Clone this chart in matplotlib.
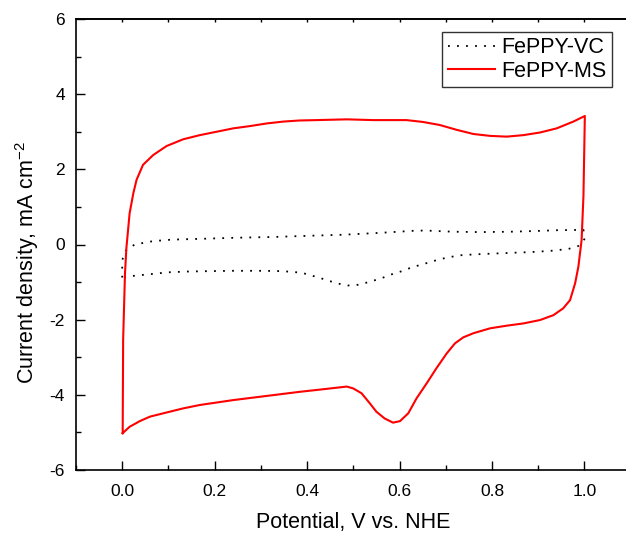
import numpy as np
import matplotlib.pyplot as plt

plt.rcParams['font.family'] = ['Liberation Sans', 'DejaVu Sans']
plt.rcParams['axes.unicode_minus'] = False
plt.rcParams['mathtext.fontset'] = 'custom'
plt.rcParams['mathtext.rm'] = 'Liberation Sans'
plt.rcParams['mathtext.it'] = 'Liberation Sans:italic'

# FePPY-MS cyclic voltammogram (red), V vs NHE / mA cm-2
ms_v = [0.001, 0.002, 0.004, 0.006, 0.009, 0.016, 0.024, 0.031, 0.045, 0.067,
        0.096, 0.132, 0.168, 0.204, 0.240, 0.276, 0.312, 0.348, 0.384, 0.421,
        0.486, 0.543, 0.615, 0.651, 0.687, 0.724, 0.760, 0.796, 0.832, 0.868,
        0.904, 0.940, 0.976, 1.001, 0.998, 0.994, 0.987, 0.980, 0.969, 0.954,
        0.933, 0.904, 0.868, 0.832, 0.796, 0.760, 0.738, 0.720, 0.702, 0.680,
        0.659, 0.637, 0.619, 0.601, 0.586, 0.568, 0.550, 0.536, 0.518, 0.500,
        0.486, 0.421, 0.384, 0.312, 0.240, 0.168, 0.132, 0.096, 0.060, 0.038,
        0.016, 0.001]
ms_j = [-5.02, -2.54, -1.65, -0.77, -0.10, 0.83, 1.36, 1.72, 2.12, 2.38,
        2.62, 2.80, 2.91, 3.00, 3.09, 3.15, 3.22, 3.27, 3.30, 3.31,
        3.33, 3.31, 3.31, 3.26, 3.18, 3.05, 2.94, 2.89, 2.87, 2.91,
        2.98, 3.09, 3.27, 3.42, 1.30, 0.12, -0.59, -1.03, -1.48, -1.70,
        -1.88, -2.01, -2.10, -2.16, -2.23, -2.36, -2.47, -2.63, -2.90, -3.29,
        -3.69, -4.09, -4.49, -4.70, -4.74, -4.63, -4.45, -4.23, -3.96, -3.83,
        -3.78, -3.87, -3.92, -4.03, -4.14, -4.27, -4.36, -4.47, -4.58, -4.70,
        -4.85, -5.02]

# FePPY-VC (black dotted)
vc_v = [0.000, 0.000, 0.008, 0.027, 0.067, 0.107, 0.168, 0.247, 0.327, 0.399,
        0.478, 0.558, 0.637, 0.659, 0.716, 0.774, 0.839, 0.897, 0.940, 0.998,
        1.000, 0.987, 0.965, 0.926, 0.886, 0.846, 0.806, 0.767, 0.727, 0.708,
        0.687, 0.666, 0.626, 0.605, 0.586, 0.567, 0.547, 0.527, 0.507, 0.488,
        0.467, 0.448, 0.428, 0.408, 0.388, 0.348, 0.305, 0.240, 0.182, 0.139,
        0.099, 0.060, 0.020, 0.000]
vc_j = [-0.88, -0.41, -0.16, 0.00, 0.09, 0.13, 0.15, 0.18, 0.20, 0.23,
        0.26, 0.31, 0.37, 0.37, 0.34, 0.33, 0.34, 0.36, 0.38, 0.39,
        0.14, -0.04, -0.12, -0.17, -0.20, -0.22, -0.24, -0.26, -0.29, -0.34,
        -0.39, -0.47, -0.61, -0.71, -0.78, -0.87, -0.95, -1.02, -1.08, -1.09,
        -1.04, -0.97, -0.89, -0.82, -0.75, -0.71, -0.70, -0.70, -0.71, -0.72,
        -0.74, -0.79, -0.84, -0.88]

W, H = 626, 535
fig = plt.figure(figsize=(W / 100, H / 100), dpi=100)
ax = fig.add_axes([76 / W, 65 / H, (630.6 - 76) / W, 451 / H])

ax.plot(vc_v, vc_j, color='black', lw=1.3, linestyle=(0, (1, 4)), label='FePPY-VC')
ax.plot(ms_v, ms_j, color='red', lw=1.5, label='FePPY-MS')

ax.set_xlim(-0.1, 1.1)
ax.set_ylim(-6, 6)
ax.set_xticks(np.arange(0, 1.01, 0.2))
ax.set_xticks(np.arange(-0.1, 1.11, 0.1), minor=True)
ax.set_yticks(np.arange(-6, 6.1, 2))
ax.set_yticks(np.arange(-5, 6, 2), minor=True)
ax.xaxis.set_major_formatter(plt.FormatStrFormatter('%.1f'))

ax.tick_params(which='both', direction='in', width=1.0, labelsize=12.5,
               top=False, right=False)
ax.tick_params(which='major', length=6.5)
ax.tick_params(which='minor', length=3.5)
ax.tick_params(axis='x', pad=10)
ax.tick_params(axis='y', pad=8)

for s in ax.spines.values():
    s.set_linewidth(1.2)

# small ticks along the top
top = ax.secondary_xaxis('top')
top.set_xticks(np.arange(0, 1.11, 0.1))
top.tick_params(direction='in', length=2.5, width=1.0, labeltop=False)
top.spines['top'].set_linewidth(1.2)

ax.set_xlabel('Potential, V vs. NHE', fontsize=15.5, labelpad=9.5)
ax.set_ylabel(r'Current density, mA cm$^{\mathregular{-2}}$', fontsize=15.5)
ax.yaxis.set_label_coords(-0.064, 0.46)

leg = ax.legend(loc='upper right', bbox_to_anchor=(612 / W, 1 - 32 / H),
                bbox_transform=fig.transFigure, fontsize=15.5, frameon=True,
                fancybox=False, handlelength=2.2, borderpad=0.25,
                labelspacing=0.1, handletextpad=0.3, borderaxespad=0)
leg.get_frame().set_edgecolor('black')
leg.get_frame().set_linewidth(1.0)

fig.savefig('out.png', dpi=100)
